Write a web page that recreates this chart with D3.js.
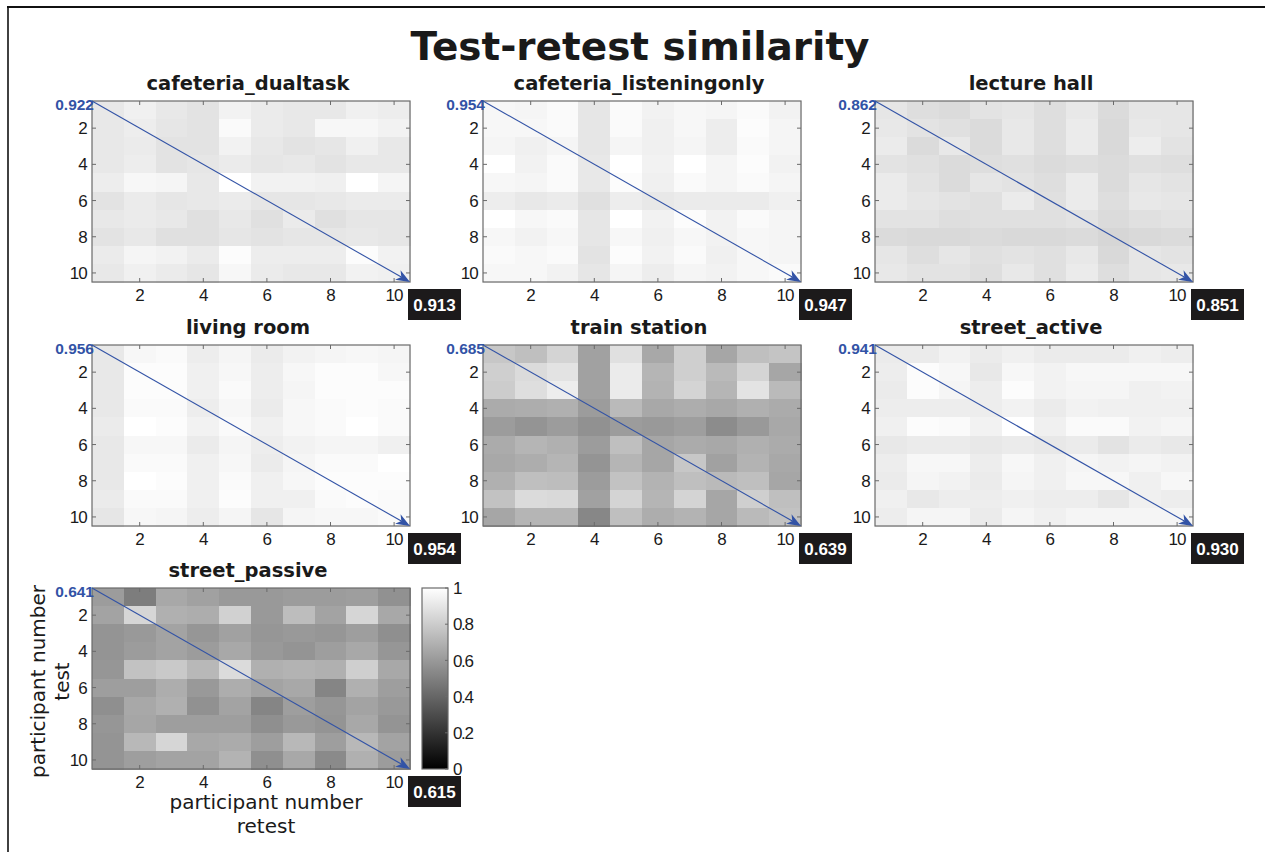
<!DOCTYPE html>
<html>
<head>
<meta charset="utf-8">
<script src="https://cdn.jsdelivr.net/npm/d3@7"></script>
<style>
  body { margin: 0; background: #fff; }
  svg { display: block; }
</style>
</head>
<body>
<div id="chart"></div>
<script>
// panel names, numbers shown at the top-left (blue) and in the black boxes
const titles = ['cafeteria_dualtask', 'cafeteria_listeningonly', 'lecture hall',
  'living room', 'train station', 'street_active', 'street_passive'];
const diagLabels = ['0.922', '0.954', '0.862', '0.956', '0.685', '0.941', '0.641'];
const boxLabels = ['0.913', '0.947', '0.851', '0.954', '0.639', '0.930', '0.615'];
const tickValues = [2, 4, 6, 8, 10];
const colorTicks = [0, 0.2, 0.4, 0.6, 0.8, 1];

// similarity matrices, rows = test participant, columns = retest participant
const cafeteriaDual = [
  [0.91, 0.94, 0.91, 0.89, 0.95, 0.92, 0.91, 0.91, 0.94, 0.93],
  [0.91, 0.93, 0.90, 0.89, 0.98, 0.92, 0.91, 0.97, 0.97, 0.95],
  [0.91, 0.92, 0.89, 0.89, 0.95, 0.91, 0.89, 0.90, 0.94, 0.91],
  [0.91, 0.93, 0.89, 0.90, 0.92, 0.90, 0.91, 0.89, 0.91, 0.91],
  [0.93, 0.97, 0.96, 0.91, 1.00, 0.95, 0.95, 0.94, 1.00, 0.96],
  [0.89, 0.92, 0.90, 0.91, 0.92, 0.90, 0.90, 0.91, 0.92, 0.92],
  [0.91, 0.92, 0.91, 0.88, 0.91, 0.88, 0.92, 0.88, 0.90, 0.90],
  [0.89, 0.91, 0.88, 0.88, 0.90, 0.89, 0.90, 0.90, 0.91, 0.90],
  [0.92, 0.96, 0.95, 0.92, 0.99, 0.93, 0.93, 0.93, 0.99, 0.95],
  [0.91, 0.94, 0.92, 0.90, 0.97, 0.92, 0.91, 0.91, 0.95, 0.94]
];
const cafeteriaListen = [
  [0.97, 0.96, 0.98, 0.90, 0.98, 0.95, 0.97, 0.96, 0.98, 0.95],
  [0.97, 0.97, 0.98, 0.90, 0.98, 0.94, 0.97, 0.93, 0.99, 0.96],
  [0.96, 0.94, 0.96, 0.90, 0.96, 0.94, 0.96, 0.93, 0.98, 0.96],
  [1.00, 0.95, 0.98, 0.91, 1.00, 0.95, 1.00, 0.96, 0.99, 0.95],
  [0.97, 0.96, 0.98, 0.91, 0.99, 0.94, 0.98, 0.96, 0.98, 0.96],
  [0.93, 0.91, 0.92, 0.88, 0.93, 0.91, 0.92, 0.92, 0.92, 0.94],
  [1.00, 0.97, 0.98, 0.90, 1.00, 0.95, 0.99, 0.95, 0.98, 0.96],
  [0.97, 0.95, 0.97, 0.90, 0.97, 0.94, 0.97, 0.95, 0.97, 0.96],
  [0.98, 0.97, 0.98, 0.89, 0.99, 0.95, 0.98, 0.94, 0.97, 0.96],
  [0.97, 0.97, 0.95, 0.90, 0.96, 0.93, 0.96, 0.95, 0.97, 0.98]
];
const lectureHall = [
  [0.90, 0.87, 0.86, 0.89, 0.90, 0.87, 0.91, 0.86, 0.90, 0.90],
  [0.91, 0.89, 0.88, 0.86, 0.91, 0.87, 0.92, 0.85, 0.91, 0.90],
  [0.92, 0.86, 0.91, 0.86, 0.91, 0.87, 0.92, 0.85, 0.93, 0.89],
  [0.89, 0.88, 0.86, 0.87, 0.88, 0.86, 0.87, 0.86, 0.88, 0.87],
  [0.92, 0.89, 0.86, 0.90, 0.89, 0.87, 0.92, 0.86, 0.90, 0.89],
  [0.92, 0.90, 0.89, 0.88, 0.92, 0.88, 0.92, 0.87, 0.91, 0.90],
  [0.89, 0.89, 0.87, 0.88, 0.88, 0.88, 0.89, 0.86, 0.88, 0.89],
  [0.86, 0.85, 0.85, 0.86, 0.85, 0.85, 0.86, 0.84, 0.85, 0.86],
  [0.90, 0.87, 0.90, 0.88, 0.89, 0.88, 0.91, 0.85, 0.90, 0.89],
  [0.91, 0.89, 0.89, 0.87, 0.91, 0.88, 0.92, 0.87, 0.90, 0.91]
];
const livingRoom = [
  [0.91, 0.97, 0.98, 0.93, 0.96, 0.92, 0.95, 0.96, 0.97, 0.96],
  [0.91, 0.99, 0.99, 0.94, 0.97, 0.93, 0.97, 0.99, 0.99, 0.97],
  [0.91, 0.99, 0.99, 0.94, 0.98, 0.93, 0.96, 0.99, 0.99, 0.99],
  [0.91, 0.98, 0.98, 0.93, 0.97, 0.92, 0.97, 0.98, 0.99, 0.98],
  [0.92, 1.00, 0.99, 0.95, 0.98, 0.94, 0.97, 0.98, 1.00, 0.98],
  [0.91, 0.97, 0.97, 0.92, 0.96, 0.93, 0.95, 0.96, 0.96, 0.94],
  [0.91, 0.98, 0.98, 0.94, 0.97, 0.92, 0.96, 0.98, 0.98, 1.00],
  [0.91, 1.00, 0.99, 0.94, 0.98, 0.94, 0.97, 0.99, 0.99, 0.99],
  [0.92, 0.98, 0.98, 0.94, 0.99, 0.94, 0.94, 0.98, 0.99, 0.98],
  [0.90, 0.97, 0.96, 0.93, 0.96, 0.90, 0.96, 0.97, 0.97, 0.98]
];
const trainStation = [
  [0.78, 0.75, 0.83, 0.63, 0.88, 0.66, 0.81, 0.65, 0.75, 0.77],
  [0.81, 0.86, 0.89, 0.63, 0.92, 0.71, 0.81, 0.73, 0.83, 0.65],
  [0.80, 0.87, 0.93, 0.63, 0.92, 0.70, 0.83, 0.71, 0.89, 0.73],
  [0.67, 0.68, 0.69, 0.61, 0.73, 0.66, 0.68, 0.66, 0.69, 0.67],
  [0.61, 0.58, 0.61, 0.57, 0.61, 0.60, 0.62, 0.55, 0.60, 0.66],
  [0.67, 0.71, 0.69, 0.61, 0.75, 0.65, 0.67, 0.66, 0.69, 0.67],
  [0.66, 0.68, 0.71, 0.58, 0.71, 0.65, 0.78, 0.63, 0.70, 0.66],
  [0.69, 0.75, 0.74, 0.61, 0.76, 0.70, 0.75, 0.73, 0.75, 0.65],
  [0.76, 0.86, 0.85, 0.63, 0.83, 0.71, 0.83, 0.65, 0.81, 0.75],
  [0.65, 0.71, 0.71, 0.53, 0.75, 0.68, 0.70, 0.65, 0.73, 0.76]
];
const streetActive = [
  [0.92, 0.92, 0.95, 0.92, 0.94, 0.92, 0.92, 0.92, 0.94, 0.93],
  [0.93, 0.99, 0.97, 0.91, 0.97, 0.95, 0.97, 0.97, 0.97, 0.97],
  [0.92, 0.99, 0.96, 0.93, 0.99, 0.95, 0.96, 0.96, 0.94, 0.95],
  [0.93, 0.93, 0.93, 0.93, 0.95, 0.92, 0.95, 0.94, 0.94, 0.94],
  [0.94, 0.99, 0.98, 0.95, 1.00, 0.94, 0.98, 0.98, 0.95, 0.96],
  [0.91, 0.92, 0.92, 0.91, 0.92, 0.91, 0.92, 0.89, 0.92, 0.91],
  [0.93, 0.97, 0.97, 0.93, 0.97, 0.94, 0.96, 0.95, 0.96, 0.95],
  [0.92, 0.96, 0.95, 0.92, 0.96, 0.94, 0.97, 0.97, 0.94, 0.97],
  [0.94, 0.91, 0.93, 0.93, 0.94, 0.93, 0.93, 0.90, 0.94, 0.93],
  [0.93, 0.96, 0.96, 0.92, 0.96, 0.94, 0.96, 0.96, 0.96, 0.96]
];
const streetPassive = [
  [0.61, 0.49, 0.66, 0.63, 0.60, 0.60, 0.61, 0.61, 0.62, 0.57],
  [0.64, 0.84, 0.69, 0.68, 0.82, 0.60, 0.74, 0.64, 0.84, 0.66],
  [0.58, 0.60, 0.64, 0.59, 0.63, 0.59, 0.60, 0.59, 0.62, 0.56],
  [0.58, 0.61, 0.64, 0.61, 0.66, 0.60, 0.58, 0.62, 0.66, 0.59],
  [0.59, 0.76, 0.79, 0.72, 0.86, 0.69, 0.70, 0.69, 0.81, 0.66],
  [0.62, 0.62, 0.68, 0.60, 0.68, 0.64, 0.66, 0.52, 0.69, 0.62],
  [0.56, 0.66, 0.69, 0.57, 0.64, 0.52, 0.62, 0.59, 0.64, 0.60],
  [0.59, 0.65, 0.62, 0.62, 0.62, 0.56, 0.60, 0.58, 0.66, 0.58],
  [0.58, 0.72, 0.84, 0.66, 0.67, 0.62, 0.72, 0.62, 0.72, 0.64],
  [0.58, 0.62, 0.64, 0.64, 0.70, 0.56, 0.66, 0.54, 0.69, 0.61]
];
const matrices = [cafeteriaDual, cafeteriaListen, lectureHall, livingRoom,
  trainStation, streetActive, streetPassive];

// layout
const W = 1265, H = 852;
const pw = 318, ph = 181;
const colX = [92, 483, 875];
const rowY = [101, 345, 588];
const blue = '#3253a6';
const frameColor = '#6a6a6a';
const tickFont = '"Liberation Sans", Arial, Helvetica, sans-serif';
const labelFont = '"DejaVu Sans", Verdana, sans-serif';

const svg = d3.select('#chart')
  .append('svg')
  .attr('width', W)
  .attr('height', H);

// outer frame lines (top and left)
svg.append('line').attr('x1', 7).attr('x2', W).attr('y1', 7).attr('y2', 7)
  .attr('stroke', '#111').attr('stroke-width', 2);
svg.append('line').attr('x1', 8).attr('x2', 8).attr('y1', 6).attr('y2', H)
  .attr('stroke', '#111').attr('stroke-width', 1.6);

svg.append('text')
  .attr('x', 640).attr('y', 60)
  .attr('text-anchor', 'middle')
  .style('font-family', labelFont)
  .style('font-weight', 'bold')
  .style('font-size', '39px')
  .attr('fill', '#1a1a1a')
  .text('Test-retest similarity');

const x = d3.scaleLinear().domain([0.5, 10.5]).range([0, pw]);
const y = d3.scaleLinear().domain([0.5, 10.5]).range([0, ph]);
const gray = v => d3.interpolateRgb('#000', '#fff')(Math.max(0, Math.min(1, v)));

const defs = svg.append('defs');

titles.forEach((name, k) => {
  const g = svg.append('g')
    .attr('transform', `translate(${colX[k % 3]},${rowY[Math.floor(k / 3)]})`);
  const m = matrices[k];

  // cells
  const cells = [];
  m.forEach((row, r) => row.forEach((v, c) => cells.push({ r: r + 1, c: c + 1, v })));
  g.selectAll('rect.cell')
    .data(cells)
    .enter()
    .append('rect')
    .attr('class', 'cell')
    .attr('x', d => x(d.c - 0.5))
    .attr('y', d => y(d.r - 0.5))
    .attr('width', x(1.5) - x(0.5) + 0.5)
    .attr('height', y(1.5) - y(0.5) + 0.5)
    .attr('fill', d => gray(d.v))
    .attr('shape-rendering', 'crispEdges');

  // frame
  g.append('rect')
    .attr('width', pw).attr('height', ph)
    .attr('fill', 'none').attr('stroke', frameColor).attr('stroke-width', 1.2);

  // inward ticks on all sides
  const tl = 4;
  tickValues.forEach(t => {
    g.append('line').attr('x1', 0).attr('x2', tl).attr('y1', y(t)).attr('y2', y(t));
    g.append('line').attr('x1', pw).attr('x2', pw - tl).attr('y1', y(t)).attr('y2', y(t));
    g.append('line').attr('x1', x(t)).attr('x2', x(t)).attr('y1', 0).attr('y2', tl);
    g.append('line').attr('x1', x(t)).attr('x2', x(t)).attr('y1', ph).attr('y2', ph - tl);
  });
  g.selectAll('line').attr('stroke', frameColor).attr('stroke-width', 1);

  // tick labels
  g.selectAll('text.ytick')
    .data(tickValues)
    .enter()
    .append('text')
    .attr('class', 'ytick')
    .attr('x', -5)
    .attr('y', d => y(d))
    .attr('dy', '0.36em')
    .attr('text-anchor', 'end')
    .style('font-family', tickFont)
    .style('font-size', '17px')
    .style('letter-spacing', '-0.8px')
    .attr('fill', '#1a1a1a')
    .text(d => d);
  g.selectAll('text.xtick')
    .data(tickValues)
    .enter()
    .append('text')
    .attr('class', 'xtick')
    .attr('x', d => x(d))
    .attr('y', ph + 19)
    .attr('text-anchor', 'middle')
    .style('font-family', tickFont)
    .style('font-size', '17px')
    .style('letter-spacing', '-0.8px')
    .attr('fill', '#1a1a1a')
    .text(d => d);

  // panel title
  g.append('text')
    .attr('x', pw / 2 - 3).attr('y', -11)
    .attr('text-anchor', 'middle')
    .style('font-family', labelFont)
    .style('font-weight', 'bold')
    .style('font-size', '19.5px')
    .attr('fill', '#1a1a1a')
    .text(name);

  // diagonal arrow
  const x0 = x(0.5), y0 = y(0.5), x1 = x(10.5), y1 = y(10.5);
  const ang = Math.atan2(y1 - y0, x1 - x0);
  const hl = 14, hw = 5.5, back = 10;
  const bx = x1 - back * Math.cos(ang), by = y1 - back * Math.sin(ang);
  g.append('line')
    .attr('x1', x0).attr('y1', y0).attr('x2', bx).attr('y2', by)
    .attr('stroke', blue).attr('stroke-width', 1.1);
  const pt = (l, w) => [x1 - l * Math.cos(ang) - w * Math.sin(ang),
    y1 - l * Math.sin(ang) + w * Math.cos(ang)];
  g.append('path')
    .attr('d', 'M' + [pt(0, 0), pt(hl, hw), pt(back, 0), pt(hl, -hw)].join('L') + 'Z')
    .attr('fill', blue);

  // blue diagonal value
  g.append('text')
    .attr('x', 2).attr('y', 8.5)
    .attr('text-anchor', 'end')
    .style('font-family', tickFont)
    .style('font-weight', 'bold')
    .style('font-size', '15.5px')
    .attr('fill', blue)
    .text(diagLabels[k]);

  // black box value
  const box = g.append('g').attr('transform', `translate(${pw - 2},${ph + 7})`);
  box.append('rect').attr('width', 53).attr('height', 31).attr('fill', '#1c1a1b');
  box.append('text')
    .attr('x', 26.5).attr('y', 21.5)
    .attr('text-anchor', 'middle')
    .style('font-family', tickFont)
    .style('font-weight', 'bold')
    .style('font-size', '17px')
    .attr('fill', '#fff')
    .text(boxLabels[k]);
});

// axis labels for the last panel
const lastY = rowY[2];
['participant number', 'retest'].forEach((t, i) => {
  svg.append('text')
    .attr('x', 266).attr('y', 809 + i * 24)
    .attr('text-anchor', 'middle')
    .style('font-family', labelFont)
    .style('font-size', '20px')
    .attr('fill', '#1a1a1a')
    .text(t);
});
['participant number', 'test'].forEach((t, i) => {
  svg.append('text')
    .attr('transform', `translate(${45 + i * 24},${lastY + ph / 2 + 3}) rotate(-90)`)
    .attr('text-anchor', 'middle')
    .style('font-family', labelFont)
    .style('font-size', '20px')
    .attr('fill', '#1a1a1a')
    .text(t);
});

// colorbar
const cbX = 422, cbW = 26;
const grad = defs.append('linearGradient')
  .attr('id', 'cbgrad').attr('x1', 0).attr('x2', 0).attr('y1', 1).attr('y2', 0);
colorTicks.forEach(t => {
  grad.append('stop').attr('offset', t).attr('stop-color', gray(t));
});
const cy = d3.scaleLinear().domain([0, 1]).range([lastY + ph, lastY]);
svg.append('rect')
  .attr('x', cbX).attr('y', lastY).attr('width', cbW).attr('height', ph)
  .attr('fill', 'url(#cbgrad)')
  .attr('stroke', frameColor).attr('stroke-width', 1.2);
colorTicks.forEach(t => {
  svg.append('line')
    .attr('x1', cbX + cbW).attr('x2', cbX + cbW - 3)
    .attr('y1', cy(t)).attr('y2', cy(t))
    .attr('stroke', frameColor);
});
svg.selectAll('text.cbtick')
  .data(colorTicks)
  .enter()
  .append('text')
  .attr('class', 'cbtick')
  .attr('x', cbX + cbW + 5)
  .attr('y', d => cy(d))
  .attr('dy', '0.36em')
  .style('font-family', tickFont)
  .style('font-size', '17px')
  .style('letter-spacing', '-1.4px')
  .attr('fill', '#1a1a1a')
  .text(d => d);
</script>
</body>
</html>
